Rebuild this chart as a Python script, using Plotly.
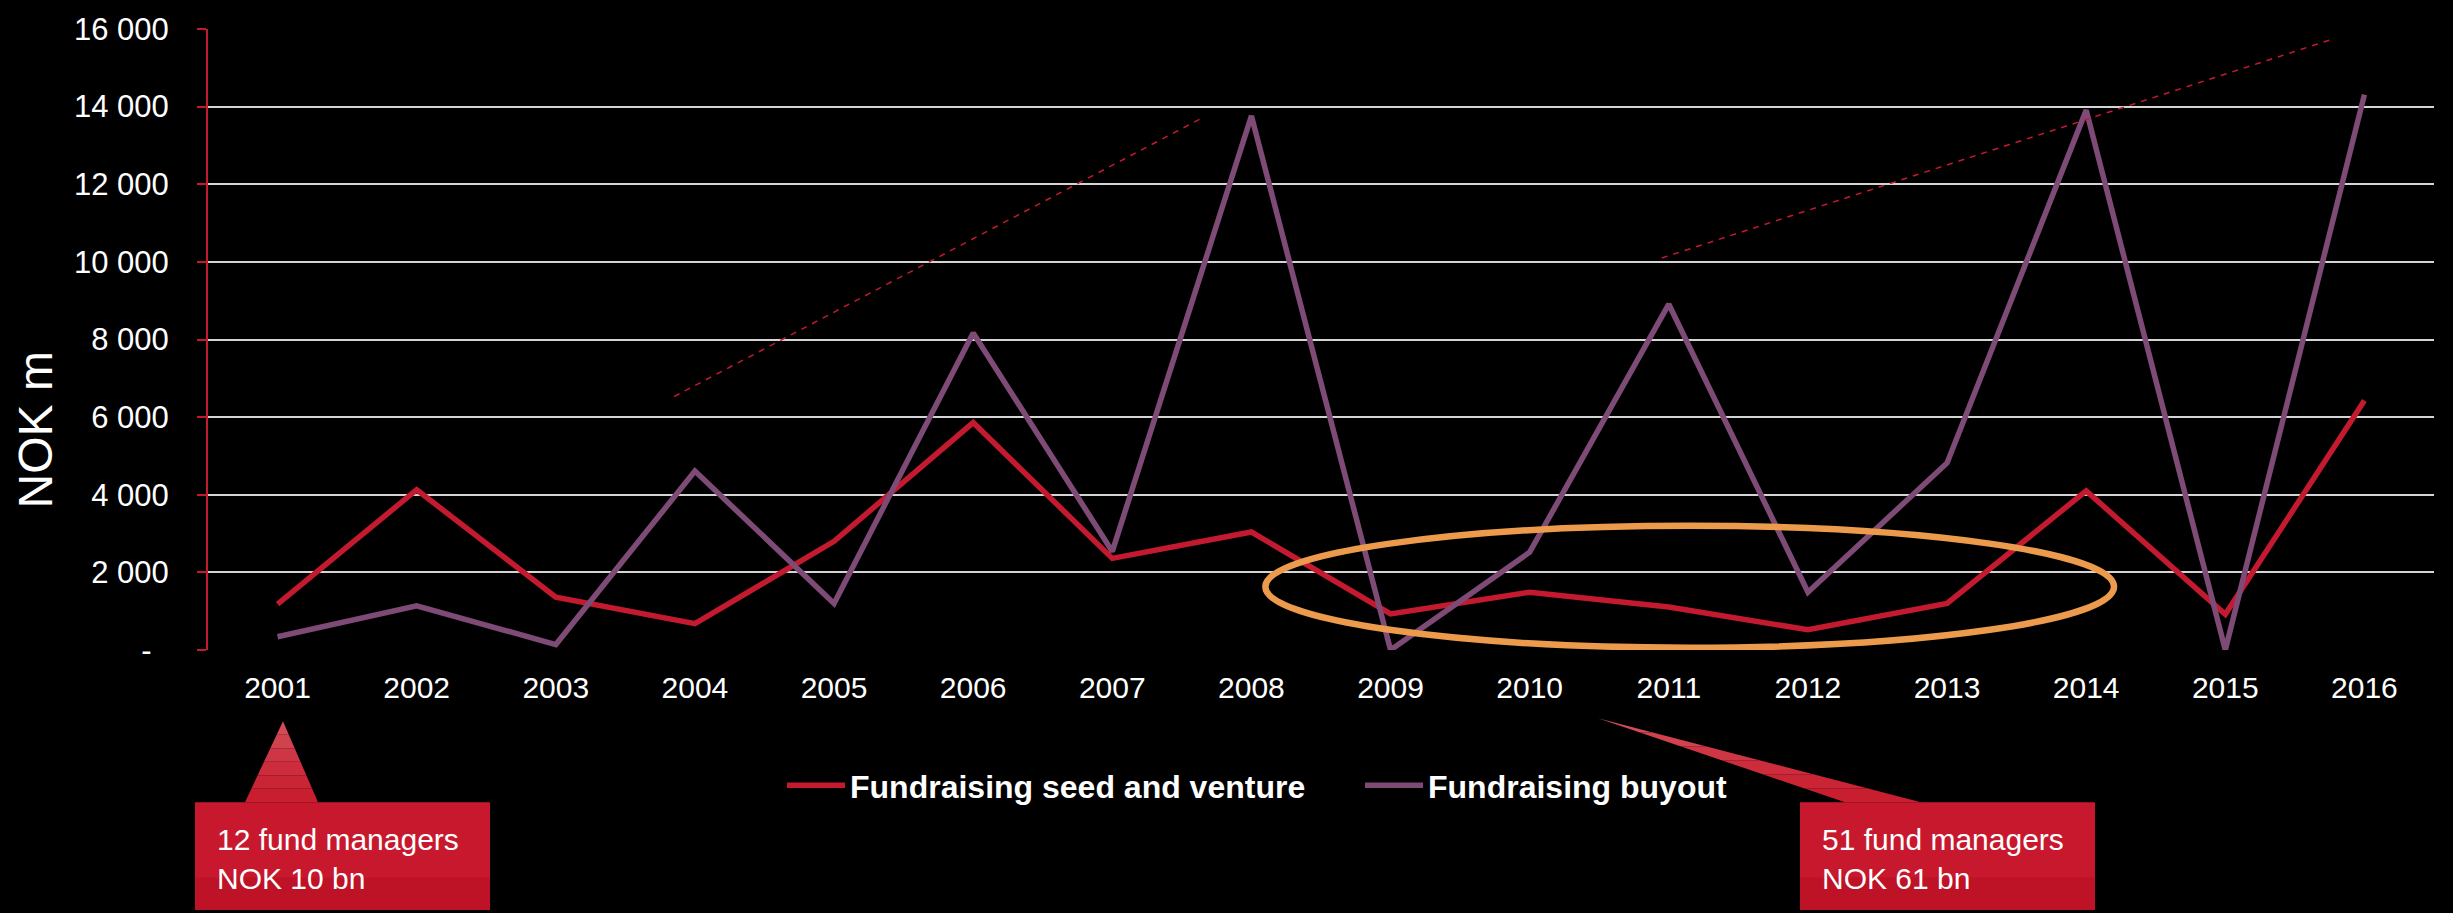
import plotly.graph_objects as go

# values (NOK m)
years = list(range(2001, 2017))
seed_venture = [1180, 4130, 1360, 680, 2800, 5860, 2360, 3040, 930, 1490, 1110, 520, 1200, 4100, 920, 6430]
buyout = [340, 1140, 140, 4610, 1200, 8170, 2540, 13760, 0, 2520, 8910, 1490, 4820, 13910, 0, 14310]

y_ticks = [0, 2000, 4000, 6000, 8000, 10000, 12000, 14000, 16000]
y_tick_text = ["-\u00a0\u00a0", "2 000", "4 000", "6 000", "8 000", "10 000", "12 000", "14 000", "16 000"]

# dashed trend lines and the circled period
trend_early_x = [2003.85, 2007.63]
trend_early_y = [6530, 13680]
trend_late_x = [2010.95, 2015.78]
trend_late_y = [10100, 15750]
circled_x = [2008.1, 2014.2]
circled_y = [60, 3200]

callout_text = ["12 fund managers<br>NOK 10 bn", "51 fund managers<br>NOK 61 bn"]

RED = "#C41A30"
PURPLE = "#7E4B76"
ORANGE = "#EC9A4C"
FONT = "Liberation Sans, Arial, sans-serif"

W, H = 2453, 913
L, R, T, B = 208, 2434, 22, 650


def px(x):
    return (x - L) / (R - L)


def py(y):
    return (B - y) / (B - T)


fig = go.Figure()
fig.add_trace(go.Scatter(x=years, y=seed_venture, mode="lines", name="Fundraising seed and venture",
                         line=dict(color=RED, width=5.5)))
fig.add_trace(go.Scatter(x=years, y=buyout, mode="lines", name="Fundraising buyout",
                         line=dict(color=PURPLE, width=5.5)))

for xs, ys in [(trend_early_x, trend_early_y), (trend_late_x, trend_late_y)]:
    fig.add_shape(type="line", xref="x", yref="y", x0=xs[0], x1=xs[1], y0=ys[0], y1=ys[1],
                  line=dict(color=RED, width=1.5, dash="6px,6px"))

fig.add_shape(type="circle", xref="x", yref="y", x0=circled_x[0], x1=circled_x[1],
              y0=circled_y[0], y1=circled_y[1], line=dict(color=ORANGE, width=6.5))


# callout boxes with a pointer (pixel layout converted to paper coords)
def callout(box_x0, box_x1, apex, base_x0, base_x1, text):
    top, bottom = 804, 913
    steps = ["#D34B59", "#D1424F", "#CE3646", "#CC2C3C", "#CA2535", "#C81E30"]
    n = len(steps)
    ax, ay = apex
    for i, col in enumerate(steps):
        t0, t1 = i / n, (i + 1) / n
        # slice of the triangle between t0 and t1 (0 = apex, 1 = base)
        def pt(t, bx):
            return px(ax + (bx - ax) * t), py(ay + (top - ay) * t)
        a = pt(t0, base_x0); b = pt(t0, base_x1); c = pt(t1, base_x1); d = pt(t1, base_x0)
        path = f"M {a[0]},{a[1]} L {b[0]},{b[1]} L {c[0]},{c[1]} L {d[0]},{d[1]} Z"
        fig.add_shape(type="path", xref="paper", yref="paper", path=path,
                      fillcolor=col, line=dict(width=0))
    fig.add_shape(type="rect", xref="paper", yref="paper", x0=px(box_x0), x1=px(box_x1),
                  y0=py(top), y1=py(bottom), fillcolor="#C8182D", line=dict(width=0))
    fig.add_shape(type="rect", xref="paper", yref="paper", x0=px(box_x0), x1=px(box_x1),
                  y0=py(880), y1=py(bottom), fillcolor="#BE1226", line=dict(width=0))
    fig.add_annotation(xref="paper", yref="paper", x=px(box_x0 + 20), y=py(861), text=text,
                       showarrow=False, xanchor="left", yanchor="middle", align="left",
                       font=dict(family=FONT, size=30, color="white"))


callout(195, 490, (283, 722), 245, 318, callout_text[0])
callout(1800, 2095, (1598, 719), 1845, 1921, callout_text[1])

fig.add_annotation(xref="paper", yref="paper", x=px(35), y=py(428), text="NOK m", textangle=-90,
                   showarrow=False, xanchor="center", yanchor="middle",
                   font=dict(family=FONT, size=48, color="white"))

fig.update_layout(
    width=W, height=H,
    margin=dict(l=L, r=W - R, t=T, b=H - B),
    paper_bgcolor="black", plot_bgcolor="black",
    font=dict(family=FONT, color="white", size=30),
    showlegend=True,
    legend=dict(orientation="h", x=px(782), y=py(787), xanchor="left", yanchor="middle",
                font=dict(family=FONT, size=32, color="white", weight="bold"),
                itemwidth=58, entrywidth=505, bgcolor="rgba(0,0,0,0)"),
)
fig.update_xaxes(range=[2000.5, 2016.5], tickvals=years, ticktext=[str(y) for y in years],
                 showgrid=False, zeroline=False, showline=False, ticks="",
                 ticklabelstandoff=17, tickfont=dict(size=30, color="white"))
fig.update_yaxes(range=[0, 16000], tickvals=y_ticks, ticktext=y_tick_text,
                 showgrid=True, gridcolor="#D4D4D4", gridwidth=2, zeroline=False,
                 showline=True, linecolor=RED, linewidth=2,
                 ticks="outside", ticklen=9, tickwidth=2, tickcolor=RED,
                 ticklabelstandoff=22, tickfont=dict(size=31, color="white"))

# drop the default page margin so the figure fills the window
fig.write_html("out.html", config={"displayModeBar": False},
               post_script="document.body.style.margin='0';document.body.style.background='black';")
